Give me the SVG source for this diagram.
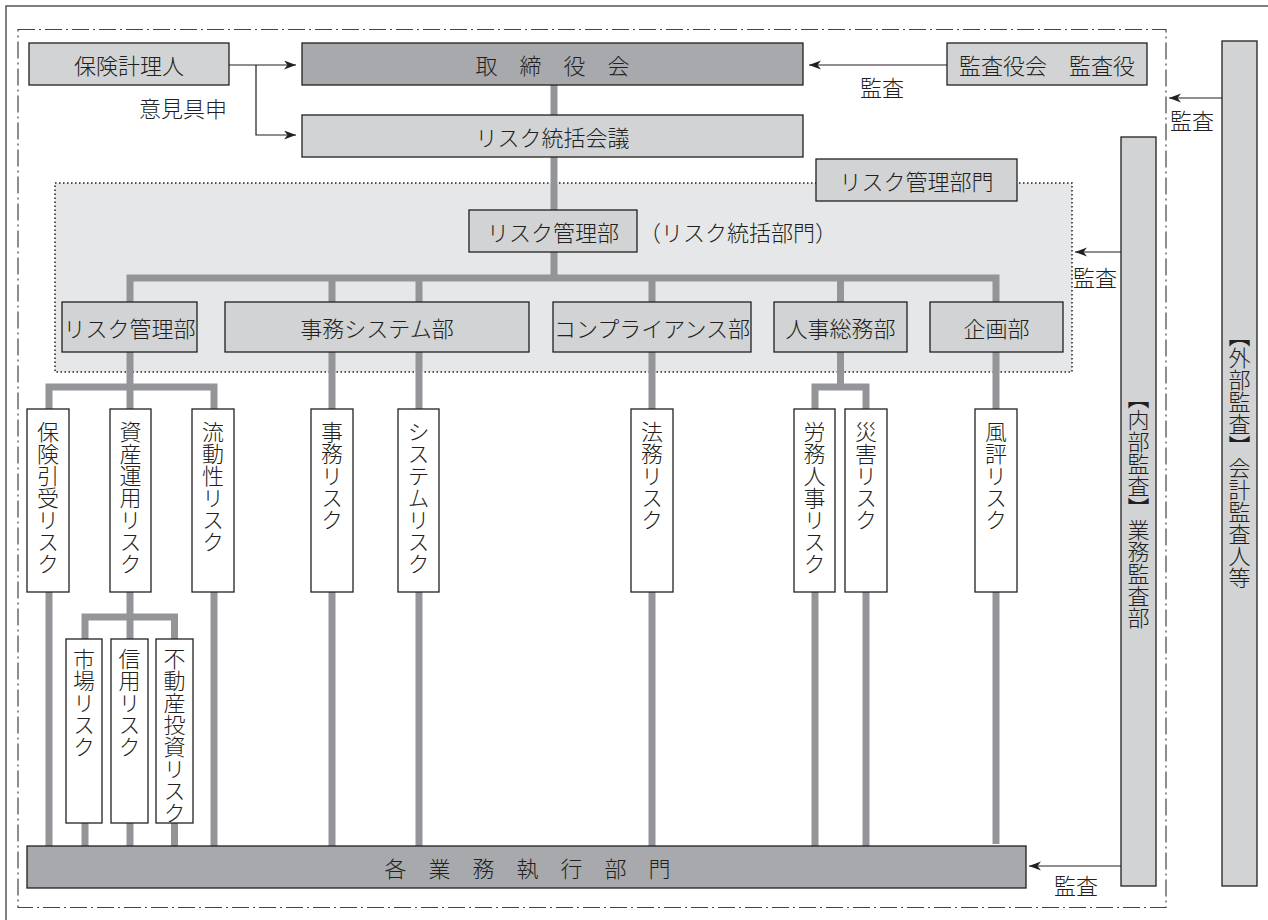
<svg xmlns="http://www.w3.org/2000/svg" width="1268" height="920" viewBox="0 0 1268 920">
<style>
text{font-family:"Noto Sans CJK JP","Noto Sans CJK SC",sans-serif;font-size:22px;fill:#231f20;font-weight:300}
.c{text-anchor:middle;dominant-baseline:central}
.vt{writing-mode:vertical-rl;text-anchor:start}
.light{fill:#d1d3d4;stroke:#231f20;stroke-width:1.3}
.dark{fill:#a7a9ac;stroke:#231f20;stroke-width:1.3}
.white{fill:#ffffff;stroke:#231f20;stroke-width:1.3}
.conn{fill:none;stroke:#939598;stroke-width:7;stroke-linejoin:miter}
.arr{fill:none;stroke:#231f20;stroke-width:1.2;marker-end:url(#ah)}
</style>
<defs>
<marker id="ah" markerUnits="userSpaceOnUse" markerWidth="13" markerHeight="10" refX="12" refY="4.5" orient="auto">
<path d="M0,0 L12,4.5 L0,9 L3.5,4.5 Z" fill="#231f20"/>
</marker>
</defs>
<rect x="0" y="0" width="1268" height="920" fill="#ffffff"/>
<g id="frames">
<rect x="6" y="6" width="1300" height="1000" fill="none" stroke="#555" stroke-width="1.5"/>
<rect x="18" y="29.5" width="1148" height="878" fill="none" stroke="#444" stroke-width="1.2" stroke-dasharray="17 4 2 4"/>
<rect x="55" y="183" width="1017" height="189" fill="#e6e7e8" stroke="#231f20" stroke-width="1.5" stroke-dasharray="1.5 2.5"/>
</g>
<g id="connectors">
<path class="conn" d="M554,85 V210 M554,252 V278"/>
<path class="conn" d="M130,302 V278 H996 V302 M332,278 V302 M419,278 V302 M652,278 V302 M840.5,278 V302"/>
<path class="conn" d="M130,352 V409 M49,409 V387 H214 V409"/>
<path class="conn" d="M332,352 V409 M419,352 V409 M652,352 V409 M996,352 V409"/>
<path class="conn" d="M840.5,352 V387 M815,409 V387 H866 V409"/>
<path class="conn" d="M130,592 V639 M85,639 V617 H174.5 V639"/>
<path class="conn" d="M49,592 V846 M214,592 V846 M85,823 V846 M130,823 V846 M174.5,823 V846 M332,592 V846 M419,592 V846 M652,592 V846 M815,592 V846 M866,592 V846 M996,592 V844"/>
<path class="arr" d="M229,65 H296"/>
<path class="arr" d="M256,65 V135 H296"/>
<path class="arr" d="M947,65 H809"/>
<path class="arr" d="M1222,98 H1169"/>
<path class="arr" d="M1121,252 H1075"/>
<path class="arr" d="M1121,866 H1029"/>
</g>
<g id="labels">
<text class="c" x="183" y="107">意見具申</text>
<text class="c" x="882" y="86">監査</text>
<text class="c" x="1192" y="119">監査</text>
<text class="c" x="1095" y="276">監査</text>
<text class="c" x="1076" y="884">監査</text>
</g>
<g id="n-actuary"><rect class="light" x="29" y="43" width="200" height="42"/><text class="c" x="129" y="64">保険計理人</text></g>
<g id="n-board"><rect class="dark" x="302" y="43" width="501" height="42"/><text class="c" x="552.5" y="64">取　締　役　会</text></g>
<g id="n-auditors"><rect class="light" x="947" y="43" width="200" height="42"/><text class="c" x="1047" y="64">監査役会　監査役</text></g>
<g id="n-council"><rect class="light" x="302" y="115" width="501" height="42"/><text class="c" x="552.5" y="136">リスク統括会議</text></g>
<g id="n-riskdiv"><rect class="light" x="816" y="159" width="201" height="42"/><text class="c" x="916.5" y="180">リスク管理部門</text></g>
<g id="n-riskmgmt-top"><rect class="light" x="469" y="210" width="168" height="42"/><text class="c" x="553" y="231">リスク管理部</text><text x="639" y="231" dominant-baseline="central">（リスク統括部門）</text></g>
<g id="n-riskmgmt"><rect class="light" x="62" y="302" width="135" height="50"/><text class="c" x="129.5" y="327">リスク管理部</text></g>
<g id="n-jimusys"><rect class="light" x="225" y="302" width="304" height="50"/><text class="c" x="377" y="327">事務システム部</text></g>
<g id="n-compliance"><rect class="light" x="553" y="302" width="198" height="50"/><text class="c" x="652" y="327">コンプライアンス部</text></g>
<g id="n-hr"><rect class="light" x="774" y="302" width="133" height="50"/><text class="c" x="840.5" y="327">人事総務部</text></g>
<g id="n-plan"><rect class="light" x="930" y="302" width="133" height="50"/><text class="c" x="996.5" y="327">企画部</text></g>
<g id="r-underwriting"><rect class="white" x="27" y="409" width="42" height="183"/><text class="vt" x="48" y="421">保険引受リスク</text></g>
<g id="r-asset"><rect class="white" x="110" y="409" width="41" height="183"/><text class="vt" x="130.5" y="421">資産運用リスク</text></g>
<g id="r-liquidity"><rect class="white" x="192" y="409" width="42" height="183"/><text class="vt" x="213" y="421">流動性リスク</text></g>
<g id="r-office"><rect class="white" x="311" y="409" width="42" height="183"/><text class="vt" x="332" y="421">事務リスク</text></g>
<g id="r-system"><rect class="white" x="398" y="409" width="41" height="183"/><text class="vt" x="418.5" y="421">システムリスク</text></g>
<g id="r-legal"><rect class="white" x="631" y="409" width="42" height="183"/><text class="vt" x="652" y="421">法務リスク</text></g>
<g id="r-labor"><rect class="white" x="794" y="409" width="41" height="183"/><text class="vt" x="814.5" y="421">労務人事リスク</text></g>
<g id="r-disaster"><rect class="white" x="845" y="409" width="42" height="183"/><text class="vt" x="866" y="421">災害リスク</text></g>
<g id="r-reputation"><rect class="white" x="975" y="409" width="42" height="183"/><text class="vt" x="996" y="421">風評リスク</text></g>
<g id="r-market"><rect class="white" x="66" y="639" width="36" height="184"/><text class="vt" x="84" y="648">市場リスク</text></g>
<g id="r-credit"><rect class="white" x="111" y="639" width="37" height="184"/><text class="vt" x="129.5" y="648">信用リスク</text></g>
<g id="r-realestate"><rect class="white" x="156" y="639" width="37" height="184"/><text class="vt" x="174.5" y="648">不動産投資リスク</text></g>
<g id="n-operations"><rect class="dark" x="27" y="846" width="999" height="42" stroke-width="2.5"/><text class="c" x="527.5" y="867">各　業　務　執　行　部　門</text></g>
<g id="n-internal-audit"><rect class="light" x="1121" y="137" width="35" height="749"/><text class="vt" x="1138.5" y="387">【内部監査】業務監査部</text></g>
<g id="n-external-audit"><rect class="light" x="1222" y="41" width="35" height="845"/><text class="vt" x="1239.5" y="325">【外部監査】会計監査人等</text></g>
</svg>
